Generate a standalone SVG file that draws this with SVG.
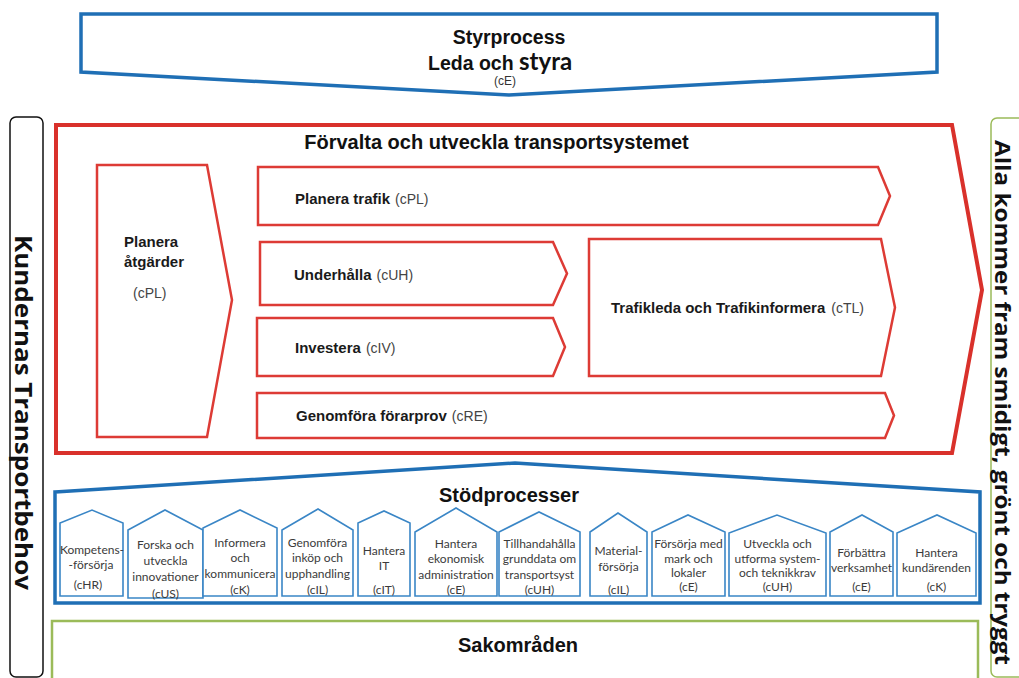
<svg xmlns="http://www.w3.org/2000/svg" width="1019" height="678" viewBox="0 0 1019 678">
<style>
.bg{fill:#ffffff}
.blue{fill:#ffffff;stroke:#1f6fb5;stroke-width:3.5;stroke-linejoin:miter}
.redo{fill:#ffffff;stroke:#d9312b;stroke-width:4;stroke-linejoin:miter}
.redi{fill:#ffffff;stroke:#dd3b35;stroke-width:2.5;stroke-linejoin:miter}
.house{fill:#ffffff;stroke:#3a86c6;stroke-width:1.6;stroke-linejoin:miter}
.green{fill:#ffffff;stroke:#9bbb59;stroke-width:2.5}
.t{font-family:"Liberation Sans",Arial,sans-serif;font-weight:bold;fill:#111111}
.b{font-family:"Liberation Sans",Arial,sans-serif;font-weight:bold;font-size:15px;fill:#1a1a1a}
.p{font-family:"Liberation Sans",Arial,sans-serif;font-weight:normal;font-size:14px;fill:#444444}
.h{font-family:Lato,"Open Sans",sans-serif;font-size:12px;fill:#3b3b3b;text-anchor:middle}
.v{font-family:"Open Sans","Noto Sans",sans-serif;font-weight:bold;fill:#111111;text-anchor:middle}
</style>
<rect class="bg" x="0" y="0" width="1019" height="678"/>

<g id="styrprocess">
<polygon class="blue" points="81,14 937,14 937,72 509,95 81,72"/>
<text class="t" x="509" y="44" font-size="19.5" text-anchor="middle">Styrprocess</text>
<text class="t" x="428" y="70" font-size="19.5">Leda och <tspan font-family="Lato,'Open Sans',sans-serif" font-size="24">styra</tspan></text>
<text x="505" y="85" font-family="Liberation Sans,Arial,sans-serif" font-size="12" fill="#333" text-anchor="middle">(cE)</text>
</g>

<g id="kundernas">
<rect x="10" y="117" width="33" height="560" rx="6" ry="6" fill="#ffffff" stroke="#111111" stroke-width="1.5"/>
<text class="v" font-size="24" transform="translate(15,412.5) rotate(90)" textLength="355" lengthAdjust="spacingAndGlyphs">Kundernas Transportbehov</text>
</g>

<g id="alla">
<rect x="991" y="118" width="40" height="559" rx="6" ry="6" fill="#ffffff" stroke="#9bbb59" stroke-width="1.5"/>
<text class="v" font-size="22" transform="translate(995,402.5) rotate(90)" textLength="525" lengthAdjust="spacingAndGlyphs">Alla kommer fram smidigt, grönt och tryggt</text>
</g>

<g id="forvalta">
<polygon class="redo" points="56,125 952,125 982,290 952,453 56,453"/>
<text class="t" x="496.5" y="149" font-size="20" text-anchor="middle">Förvalta och utveckla transportsystemet</text>
</g>

<g id="planera-atgarder">
<polygon class="redi" points="97,165 207,165 232,300 207,437 97,437"/>
<text class="b" x="124" y="247">Planera</text>
<text class="b" x="124" y="267">åtgärder</text>
<text class="p" x="133" y="298">(cPL)</text>
</g>

<g id="planera-trafik">
<polygon class="redi" points="258,167 878,167 890,196 878,225 258,225"/>
<text x="295" y="204"><tspan class="b">Planera trafik</tspan><tspan class="p" dx="5">(cPL)</tspan></text>
</g>

<g id="underhalla">
<polygon class="redi" points="260,242 553,242 567,273.5 553,305 260,305"/>
<text x="294" y="280"><tspan class="b">Underhålla</tspan><tspan class="p" dx="5">(cUH)</tspan></text>
</g>

<g id="investera">
<polygon class="redi" points="257,318 553,318 565,347 553,376 257,376"/>
<text x="295" y="353"><tspan class="b">Investera</tspan><tspan class="p" dx="5">(cIV)</tspan></text>
</g>

<g id="trafikleda">
<polygon class="redi" points="589,239 881,239 895,307.5 881,376 589,376"/>
<text x="611" y="313"><tspan class="b">Trafikleda och Trafikinformera</tspan><tspan class="p" dx="6">(cTL)</tspan></text>
</g>

<g id="genomfora-forarprov">
<polygon class="redi" points="257,393 885,393 894,415.5 885,438 257,438"/>
<text x="296" y="421"><tspan class="b">Genomföra förarprov</tspan><tspan class="p" dx="5">(cRE)</tspan></text>
</g>

<g id="stodprocesser">
<polygon class="blue" points="55,492 515,463 980,492 980,603 55,603"/>
<text class="t" x="509" y="502" font-size="20" text-anchor="middle">Stödprocesser</text>
</g>

<g id="s-hr">
<polygon class="house" points="60,596 60,523 92,510 123,523 123,596"/>
<text class="h" x="92" y="554">Kompetens-</text>
<text class="h" x="91" y="569">-försörja</text>
<text class="h" x="88" y="589">(cHR)</text>
</g>
<g id="s-us">
<polygon class="house" points="128,598 128,530 165,510 203,530 203,598"/>
<text class="h" x="165.5" y="549">Forska och</text>
<text class="h" x="165.5" y="565">utveckla</text>
<text class="h" x="165.5" y="581">innovationer</text>
<text class="h" x="165.5" y="598">(cUS)</text>
</g>
<g id="s-k">
<polygon class="house" points="203,596 203,528 240,510 277,528 277,596"/>
<text class="h" x="240" y="547">Informera</text>
<text class="h" x="240" y="562">och</text>
<text class="h" x="240" y="578">kommunicera</text>
<text class="h" x="240" y="594">(cK)</text>
</g>
<g id="s-il">
<polygon class="house" points="282,596 282,530 318,509 353,530 353,596"/>
<text class="h" x="317.5" y="547">Genomföra</text>
<text class="h" x="317.5" y="562">inköp och</text>
<text class="h" x="317.5" y="578">upphandling</text>
<text class="h" x="317.5" y="594">(cIL)</text>
</g>
<g id="s-it">
<polygon class="house" points="358,596 358,523 384,511 410,523 410,596"/>
<text class="h" x="384" y="555">Hantera</text>
<text class="h" x="384" y="570">IT</text>
<text class="h" x="384" y="594">(cIT)</text>
</g>
<g id="s-e">
<polygon class="house" points="415,596 415,532 456,508 497,532 497,596"/>
<text class="h" x="456" y="548">Hantera</text>
<text class="h" x="456" y="563">ekonomisk</text>
<text class="h" x="456" y="579">administration</text>
<text class="h" x="456" y="594">(cE)</text>
</g>
<g id="s-uh">
<polygon class="house" points="499,596 499,532 539,512 580,532 580,596"/>
<text class="h" x="539.5" y="548">Tillhandahålla</text>
<text class="h" x="539.5" y="563">grunddata om</text>
<text class="h" x="539.5" y="579">transportsyst</text>
<text class="h" x="539.5" y="594">(cUH)</text>
</g>
<g id="s-il2">
<polygon class="house" points="590,596 590,532 618,513 647,532 647,596"/>
<text class="h" x="618.5" y="555">Material-</text>
<text class="h" x="618.5" y="571">försörja</text>
<text class="h" x="618.5" y="594">(cIL)</text>
</g>
<g id="s-e2">
<polygon class="house" points="652,596 652,532 688,515 725,532 725,596"/>
<text class="h" x="688.5" y="548">Försörja med</text>
<text class="h" x="688.5" y="563">mark och</text>
<text class="h" x="688.5" y="577">lokaler</text>
<text class="h" x="688.5" y="591">(cE)</text>
</g>
<g id="s-uh2">
<polygon class="house" points="729,596 729,533 777,515 826,533 826,596"/>
<text class="h" x="777.5" y="548">Utveckla och</text>
<text class="h" x="777.5" y="563">utforma system-</text>
<text class="h" x="777.5" y="577">och teknikkrav</text>
<text class="h" x="777.5" y="591">(cUH)</text>
</g>
<g id="s-e3">
<polygon class="house" points="830,596 830,532 862,515 893,532 893,596"/>
<text class="h" x="861.5" y="557">Förbättra</text>
<text class="h" x="861.5" y="572">verksamhet</text>
<text class="h" x="861.5" y="591">(cE)</text>
</g>
<g id="s-k2">
<polygon class="house" points="897,596 897,533 937,515 976,533 976,596"/>
<text class="h" x="936.5" y="557">Hantera</text>
<text class="h" x="936.5" y="572">kundärenden</text>
<text class="h" x="936.5" y="591">(cK)</text>
</g>

<g id="sakomraden">
<rect class="green" x="52" y="621" width="926" height="62"/>
<text class="t" x="518" y="652" font-size="20" text-anchor="middle">Sakområden</text>
</g>
</svg>
